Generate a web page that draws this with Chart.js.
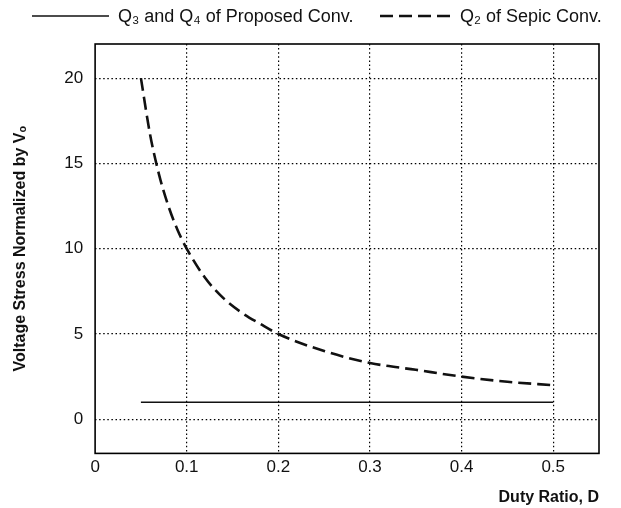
<!DOCTYPE html>
<html>
<head>
<meta charset="utf-8">
<script src="https://cdn.jsdelivr.net/npm/chart.js@4/dist/chart.umd.min.js"></script>
<style>
  html, body { margin: 0; padding: 0; background: #fff; }
  #wrap { width: 621px; height: 508px; position: relative; }
</style>
</head>
<body>
<div id="wrap"><canvas id="chart"></canvas></div>
<script>
// Data
const dutyRatio = [0.05, 0.06, 0.07, 0.08, 0.09, 0.10, 0.12, 0.14, 0.16, 0.18, 0.20, 0.25, 0.30, 0.35, 0.40, 0.45, 0.50];
const sepicQ2 = [20, 16.7, 14.3, 12.5, 11.1, 10, 8.3, 7.1, 6.25, 5.6, 5, 4, 3.3, 2.9, 2.5, 2.2, 2];
const proposedQ3Q4 = [1, 1, 1, 1, 1, 1, 1, 1, 1, 1, 1, 1, 1, 1, 1, 1, 1];
const xTicks = [0, 0.1, 0.2, 0.3, 0.4, 0.5];
const yTicks = [0, 5, 10, 15, 20];

const FONT = 'Arial, "Liberation Sans", "DejaVu Sans", sans-serif';
const INK = '#111';

const toPoints = (ys) => dutyRatio.map((d, i) => ({ x: d, y: ys[i] }));

// Legend drawn by hand: sample line then label, two entries on one row
const legendRow = {
  id: 'legendRow',
  afterDraw(chart) {
    const ctx = chart.ctx;
    const y = 16;
    const entries = [
      { x: 32, len: 77, gap: 9 },
      { x: 380, len: 73, gap: 7 }
    ];
    ctx.save();
    ctx.font = `18px ${FONT}`;
    ctx.textBaseline = 'middle';
    ctx.fillStyle = INK;
    chart.data.datasets.forEach((ds, i) => {
      const e = entries[i];
      ctx.strokeStyle = ds.borderColor;
      ctx.lineWidth = ds.borderWidth;
      ctx.setLineDash(ds.borderDash || []);
      ctx.beginPath();
      ctx.moveTo(e.x, y);
      ctx.lineTo(e.x + e.len, y);
      ctx.stroke();
      ctx.fillText(ds.label, e.x + e.len + e.gap, y + 1);
    });
    ctx.restore();
  }
};

// Solid frame around the plot area
const frame = {
  id: 'frame',
  afterDatasetsDraw(chart) {
    const { ctx, chartArea: a } = chart;
    ctx.save();
    ctx.strokeStyle = '#000';
    ctx.lineWidth = 1.6;
    ctx.setLineDash([]);
    ctx.strokeRect(a.left, a.top, a.right - a.left, a.bottom - a.top);
    ctx.restore();
  }
};

new Chart(document.getElementById('chart'), {
  type: 'line',
  data: {
    datasets: [
      {
        label: 'Q\u2083 and Q\u2084 of Proposed Conv.',
        data: toPoints(proposedQ3Q4),
        borderColor: INK,
        borderWidth: 1.6,
        pointRadius: 0,
        tension: 0
      },
      {
        label: 'Q\u2082 of Sepic Conv.',
        data: toPoints(sepicQ2),
        borderColor: INK,
        borderWidth: 2.6,
        borderDash: [13, 6],
        pointRadius: 0,
        cubicInterpolationMode: 'monotone'
      }
    ]
  },
  options: {
    responsive: true,
    maintainAspectRatio: false,
    animation: false,
    layout: { padding: { left: 11, right: 22, top: 44, bottom: 1 } },
    plugins: {
      tooltip: { enabled: false },
      legend: { display: false }
    },
    scales: {
      x: {
        type: 'linear',
        min: 0,
        max: 0.55,
        afterBuildTicks: (axis) => { axis.ticks = xTicks.map(v => ({ value: v })); },
        ticks: {
          color: INK,
          font: { family: FONT, size: 17 },
          padding: 4,
          maxRotation: 0,
          callback: (v) => String(v)
        },
        grid: {
          color: (ctx) => (ctx.tick && ctx.tick.value === 0 ? 'transparent' : '#000'),
          lineWidth: 1.2,
          drawTicks: false
        },
        border: { display: false, dash: [1.5, 2.6] },
        title: {
          display: true,
          text: 'Duty Ratio, D',
          align: 'end',
          color: INK,
          font: { family: FONT, size: 16, weight: 'bold' },
          padding: { top: 6, bottom: 0 }
        }
      },
      y: {
        type: 'linear',
        min: -2,
        max: 22,
        afterBuildTicks: (axis) => { axis.ticks = yTicks.map(v => ({ value: v })); },
        ticks: {
          color: INK,
          font: { family: FONT, size: 17 },
          padding: 12
        },
        grid: {
          color: '#000',
          lineWidth: 1.2,
          drawTicks: false
        },
        border: { display: false, dash: [1.5, 2.6] },
        title: {
          display: true,
          text: 'Voltage Stress Normalized by V\u2092',
          color: INK,
          font: { family: FONT, size: 16, weight: 'bold' },
          padding: { top: 0, bottom: 22 }
        }
      }
    }
  },
  plugins: [frame, legendRow]
});
</script>
</body>
</html>
